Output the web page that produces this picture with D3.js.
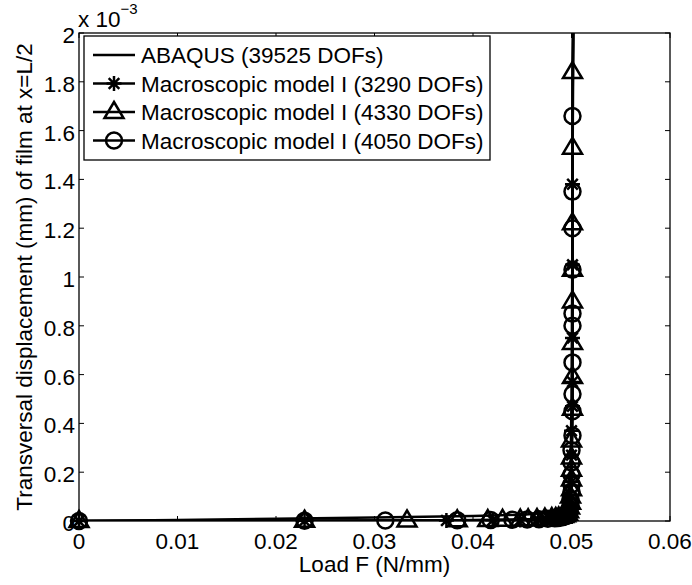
<!DOCTYPE html>
<html>
<head>
<meta charset="utf-8">
<script src="https://d3js.org/d3.v7.min.js"></script>
<style>
body { margin: 0; background: #fff; }
svg { display: block; font-family: "Liberation Sans", Arial, Helvetica, sans-serif; }
</style>
</head>
<body>
<svg id="chart" width="692" height="585"></svg>
<script>
// load F (N/mm) and transversal displacement (in units of 1e-3 mm)
var abaqusLoad = [0, 0.01, 0.02, 0.03, 0.04, 0.045, 0.048, 0.049, 0.0496, 0.0499, 0.05, 0.0501, 0.05015];
var abaqusDisp = [0, 0.004, 0.009, 0.014, 0.02, 0.026, 0.035, 0.05, 0.1, 0.2, 0.5, 1.2, 2.2];

var m3290Load = [0, 0.0229, 0.0373, 0.0420, 0.0448, 0.0466, 0.0474, 0.0480, 0.0485, 0.0489, 0.0492, 0.0495, 0.0497, 0.0499, 0.0500, 0.0500, 0.0500, 0.0501, 0.0501, 0.0501, 0.0501, 0.0501, 0.0502];
var m3290Disp = [0, 0.001, 0.002, 0.003, 0.004, 0.006, 0.008, 0.010, 0.013, 0.017, 0.022, 0.03, 0.05, 0.09, 0.16, 0.27, 0.37, 0.47, 0.57, 0.75, 1.05, 1.38, 2.1];

var m4330Load = [0, 0.0229, 0.0333, 0.0384, 0.0415, 0.0430, 0.0448, 0.0456, 0.0465, 0.0473, 0.0480, 0.0484, 0.0487, 0.0490, 0.0492, 0.0494, 0.0496, 0.0497, 0.0498, 0.0499, 0.0499, 0.0500, 0.0500, 0.0500, 0.0500, 0.0500, 0.0501, 0.0501, 0.0501, 0.0501, 0.0501, 0.0501, 0.0501, 0.0501, 0.0502];
var m4330Disp = [0, 0.001, 0.002, 0.003, 0.004, 0.005, 0.006, 0.007, 0.008, 0.01, 0.012, 0.013, 0.015, 0.017, 0.02, 0.024, 0.03, 0.04, 0.055, 0.075, 0.1, 0.13, 0.17, 0.21, 0.26, 0.33, 0.46, 0.59, 0.73, 0.9, 1.03, 1.22, 1.53, 1.84, 2.1];

var m4050Load = [0, 0.0229, 0.0311, 0.0384, 0.0418, 0.0440, 0.0455, 0.0467, 0.0476, 0.0483, 0.0486, 0.0489, 0.0491, 0.0493, 0.0495, 0.0497, 0.0498, 0.0499, 0.0499, 0.0500, 0.0500, 0.0500, 0.0500, 0.0500, 0.0501, 0.0501, 0.0501, 0.0501, 0.0501, 0.0501, 0.0501, 0.0501, 0.0501, 0.0501, 0.0502];
var m4050Disp = [0, 0.001, 0.002, 0.003, 0.004, 0.005, 0.006, 0.007, 0.009, 0.011, 0.012, 0.014, 0.016, 0.019, 0.023, 0.03, 0.045, 0.065, 0.09, 0.12, 0.15, 0.19, 0.24, 0.29, 0.35, 0.45, 0.52, 0.65, 0.8, 0.85, 1.03, 1.2, 1.35, 1.66, 2.1];

var legendNames = ["ABAQUS (39525 DOFs)", "Macroscopic model I (3290 DOFs)", "Macroscopic model I (4330 DOFs)", "Macroscopic model I (4050 DOFs)"];
var xTicks = [0, 0.01, 0.02, 0.03, 0.04, 0.05, 0.06];
var yTicks = [0, 0.2, 0.4, 0.6, 0.8, 1, 1.2, 1.4, 1.6, 1.8, 2];

var series = [
  { load: abaqusLoad, disp: abaqusDisp, marker: null },
  { load: m3290Load, disp: m3290Disp, marker: "star" },
  { load: m4330Load, disp: m4330Disp, marker: "tri" },
  { load: m4050Load, disp: m4050Disp, marker: "circ" }
];

// plot box (avoid "top", it clashes with window.top)
var pL = 79, pR = 670, pT = 33, pB = 521;
var fs = 22.5;
var svg = d3.select("#chart");
var x = d3.scaleLinear().domain([0, 0.06]).range([pL, pR]);
var y = d3.scaleLinear().domain([0, 2]).range([pB, pT]);

svg.append("defs").append("clipPath").attr("id", "clip")
  .append("rect").attr("x", pL).attr("y", pT).attr("width", pR - pL).attr("height", pB - pT);

// frame
svg.append("rect").attr("x", pL).attr("y", pT).attr("width", pR - pL).attr("height", pB - pT)
  .attr("fill", "#fff").attr("stroke", "#000").attr("stroke-width", 1.3);

// ticks (inside, on all four sides)
var tl = 5;
var tk = svg.append("g").attr("stroke", "#000").attr("stroke-width", 1);
xTicks.forEach(function (t) {
  tk.append("line").attr("x1", x(t)).attr("x2", x(t)).attr("y1", pB).attr("y2", pB - tl);
  tk.append("line").attr("x1", x(t)).attr("x2", x(t)).attr("y1", pT).attr("y2", pT + tl);
});
yTicks.forEach(function (t) {
  tk.append("line").attr("x1", pL).attr("x2", pL + tl).attr("y1", y(t)).attr("y2", y(t));
  tk.append("line").attr("x1", pR).attr("x2", pR - tl).attr("y1", y(t)).attr("y2", y(t));
});

// tick labels
svg.append("g").selectAll("text").data(xTicks).join("text")
  .attr("x", function (d) { return x(d); }).attr("y", pB + 28)
  .attr("text-anchor", "middle").attr("font-size", fs).text(function (d) { return d === 0 ? "0" : d3.format(".2f")(d); });
svg.append("g").selectAll("text").data(yTicks).join("text")
  .attr("x", pL - 4).attr("y", function (d) { return y(d) + 10; })
  .attr("text-anchor", "end").attr("font-size", fs).text(function (d) { return String(d); });

// exponent
var ex = svg.append("text").attr("x", 78).attr("y", 27).attr("font-size", fs);
ex.append("tspan").text("x 10");
ex.append("tspan").attr("dy", -13).attr("font-size", 15).text("\u22123");

// axis labels
svg.append("text").attr("x", (pL + pR) / 2).attr("y", 572).attr("text-anchor", "middle")
  .attr("font-size", fs).text("Load F (N/mm)");
svg.append("text").attr("transform", "translate(32," + ((pT + pB) / 2) + ") rotate(-90)")
  .attr("text-anchor", "middle").attr("font-size", fs).text("Transversal displacement (mm) of film at x=L/2");

// markers
var markerPath = {
  star: "M-7.5,0L7.5,0M0,-7.5L0,7.5M-5.3,-5.3L5.3,5.3M-5.3,5.3L5.3,-5.3",
  tri: "M0,-10L9.5,6L-9.5,6Z",
  circ: "M8,0A8,8 0 1,1 -8,0A8,8 0 1,1 8,0Z"
};

var line = d3.line().x(function (d) { return x(d[0]); }).y(function (d) { return y(d[1]); });
var plot = svg.append("g");
series.forEach(function (s) {
  var pts = s.load.map(function (l, i) { return [l, s.disp[i]]; });
  plot.append("path").attr("clip-path", "url(#clip)").attr("d", line(pts))
    .attr("fill", "none").attr("stroke", "#000").attr("stroke-width", 2.5);
  if (s.marker) {
    plot.append("g").selectAll("path").data(pts.filter(function (p) { return p[1] <= 2; })).join("path")
      .attr("transform", function (d) { return "translate(" + x(d[0]) + "," + y(d[1]) + ")"; })
      .attr("d", markerPath[s.marker]).attr("fill", "none").attr("stroke", "#000").attr("stroke-width", 2.5);
  }
});

// legend
var lg = svg.append("g");
var rowY = [55, 83.5, 112, 140.5];
lg.append("rect").attr("x", 84).attr("y", 36).attr("width", 406).attr("height", 124)
  .attr("fill", "#fff").attr("stroke", "#000").attr("stroke-width", 1.3);
legendNames.forEach(function (name, i) {
  var ly = rowY[i];
  lg.append("line").attr("x1", 93).attr("x2", 135).attr("y1", ly).attr("y2", ly)
    .attr("stroke", "#000").attr("stroke-width", 2.5);
  if (series[i].marker) {
    lg.append("path").attr("transform", "translate(114," + ly + ")").attr("d", markerPath[series[i].marker])
      .attr("fill", "none").attr("stroke", "#000").attr("stroke-width", 2.5);
  }
  lg.append("text").attr("x", 141).attr("y", ly + 8).attr("font-size", fs).text(name);
});
</script>
</body>
</html>
